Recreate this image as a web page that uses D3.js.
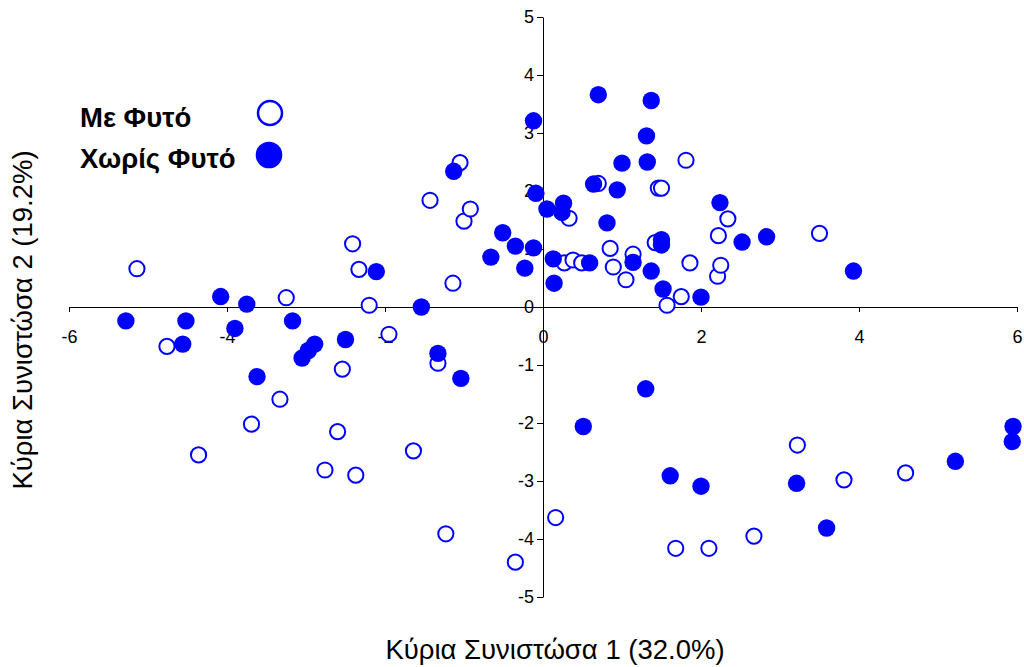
<!DOCTYPE html>
<html>
<head>
<meta charset="utf-8">
<script src="https://cdn.jsdelivr.net/npm/d3@7"></script>
<style>
  html, body { margin: 0; padding: 0; background: #fff; }
  svg { display: block; font-family: "Liberation Sans", Arial, sans-serif; }
</style>
</head>
<body>
<svg id="chart" width="1024" height="667"></svg>
<script>
// ---- Data ----
const seriesNames = ["Με Φυτό", "Χωρίς Φυτό"];
const xTitle = "Κύρια Συνιστώσα 1 (32.0%)";
const yTitle = "Κύρια Συνιστώσα 2 (19.2%)";
const xTicks = [-6, -4, -2, 0, 2, 4, 6];
const yTicks = [-5, -4, -3, -2, -1, 0, 1, 2, 3, 4, 5];

// Με Φυτό (open circles) [PC1, PC2]
const withPlant = [
  [-5.14, 0.66], [-4.76, -0.68], [-4.36, -2.55], [-3.69, -2.02], [-3.33, -1.59],
  [-3.25, 0.16], [-2.76, -2.81], [-2.60, -2.15], [-2.54, -1.07], [-2.41, 1.09],
  [-2.37, -2.90], [-2.33, 0.65], [-2.20, 0.03], [-1.95, -0.47], [-1.64, -2.48],
  [-1.43, 1.84], [-1.33, -0.97], [-1.23, -3.91], [-1.14, 0.41], [-1.05, 2.49],
  [-1.00, 1.48], [-0.92, 1.69], [-0.35, -4.40], [0.16, -3.63], [0.33, 1.53],
  [0.27, 0.76], [0.38, 0.81], [0.49, 0.76], [0.70, 2.13], [0.85, 1.01],
  [0.89, 0.69], [1.05, 0.47], [1.14, 0.91], [1.42, 1.11], [1.46, 2.05],
  [1.50, 2.05], [1.57, 0.03], [1.75, 0.18], [1.81, 2.53], [1.86, 0.76],
  [2.21, 0.53], [2.22, 1.23], [2.25, 0.72], [2.34, 1.52], [3.50, 1.27],
  [3.22, -2.38], [3.81, -2.98], [4.59, -2.86], [1.68, -4.16], [2.10, -4.16],
  [2.67, -3.95]
];

// Χωρίς Φυτό (filled circles) [PC1, PC2]
const withoutPlant = [
  [-5.28, -0.24], [-4.56, -0.64], [-4.52, -0.24], [-4.08, 0.18], [-3.90, -0.37],
  [-3.75, 0.05], [-3.62, -1.20], [-3.17, -0.24], [-3.05, -0.88], [-2.97, -0.75],
  [-2.89, -0.64], [-2.50, -0.56], [-2.11, 0.61], [-1.54, 0.00], [-1.33, -0.80],
  [-1.13, 2.34], [-1.04, -1.23], [-0.66, 0.86], [-0.51, 1.28], [-0.35, 1.05],
  [-0.23, 0.67], [-0.12, 3.21], [-0.12, 1.02], [-0.09, 1.96], [0.05, 1.69],
  [0.13, 0.83], [0.14, 0.41], [0.24, 1.63], [0.26, 1.79], [0.51, -2.06],
  [0.59, 0.76], [0.64, 2.12], [0.70, 3.66], [0.81, 1.45], [0.94, 2.02],
  [1.00, 2.48], [1.14, 0.77], [1.30, -1.41], [1.31, 2.95], [1.32, 2.50],
  [1.37, 3.56], [1.37, 0.62], [1.50, 1.16], [1.50, 1.07], [1.52, 0.31],
  [1.61, -2.91], [2.00, 0.17], [2.00, -3.09], [2.24, 1.80], [2.52, 1.12],
  [2.83, 1.21], [3.21, -3.04], [3.59, -3.81], [3.93, 0.62], [5.22, -2.66],
  [5.95, -2.06], [5.94, -2.32]
];

// ---- Chart ----
const svg = d3.select("#chart");
const blue = "#0000ff";

const x = d3.scaleLinear().domain([-6, 6]).range([69, 1017]);
const y = d3.scaleLinear().domain([-5, 5]).range([597, 17]);

const fmt = d => String(d);   // plain hyphen-minus like the original

const xAxis = d3.axisBottom(x).tickValues(xTicks).tickSize(5).tickSizeOuter(0).tickPadding(18)
  .tickFormat(fmt);
const yAxis = d3.axisLeft(y).tickValues(yTicks).tickSize(6).tickSizeOuter(0).tickPadding(3)
  .tickFormat(fmt);

const gx = svg.append("g").attr("transform", `translate(0,${y(0)})`).call(xAxis);
const gy = svg.append("g").attr("transform", `translate(${x(0)},0)`).call(yAxis);

[gx, gy].forEach(g => {
  g.selectAll("path, line").attr("stroke", "#000").attr("stroke-width", 1);
  g.selectAll("text").attr("fill", "#000").style("font-size", "18px")
    .style("font-family", "'Liberation Sans', Arial, sans-serif");
});
gx.selectAll("text").attr("dy", "0.71em");

// open points first, filled on top
svg.append("g").selectAll("circle").data(withPlant).join("circle")
  .attr("cx", d => x(d[0])).attr("cy", d => y(d[1]))
  .attr("r", 7.6).attr("fill", "#fff").attr("stroke", blue).attr("stroke-width", 2);

svg.append("g").selectAll("circle").data(withoutPlant).join("circle")
  .attr("cx", d => x(d[0])).attr("cy", d => y(d[1]))
  .attr("r", 8.7).attr("fill", blue);

// titles
svg.append("text").attr("x", 555).attr("y", 659).attr("text-anchor", "middle")
  .style("font-size", "27.5px").attr("fill", "#000").text(xTitle);
svg.append("text").attr("transform", "translate(32,320) rotate(-90)").attr("text-anchor", "middle")
  .style("font-size", "27.5px").attr("fill", "#000").text(yTitle);

// legend
const legend = svg.append("g");
const legItems = [
  { name: seriesNames[0], ty: 127, cy: 113, open: true },
  { name: seriesNames[1], ty: 168, cy: 155, open: false }
];
legItems.forEach(it => {
  legend.append("text").attr("x", 80).attr("y", it.ty)
    .style("font-size", "27.5px").style("font-weight", "bold").attr("fill", "#000").text(it.name);
  if (it.open) {
    legend.append("circle").attr("cx", 270).attr("cy", it.cy).attr("r", 12)
      .attr("fill", "#fff").attr("stroke", blue).attr("stroke-width", 2.5);
  } else {
    legend.append("circle").attr("cx", 269).attr("cy", it.cy).attr("r", 13.3).attr("fill", blue);
  }
});
</script>
</body>
</html>
